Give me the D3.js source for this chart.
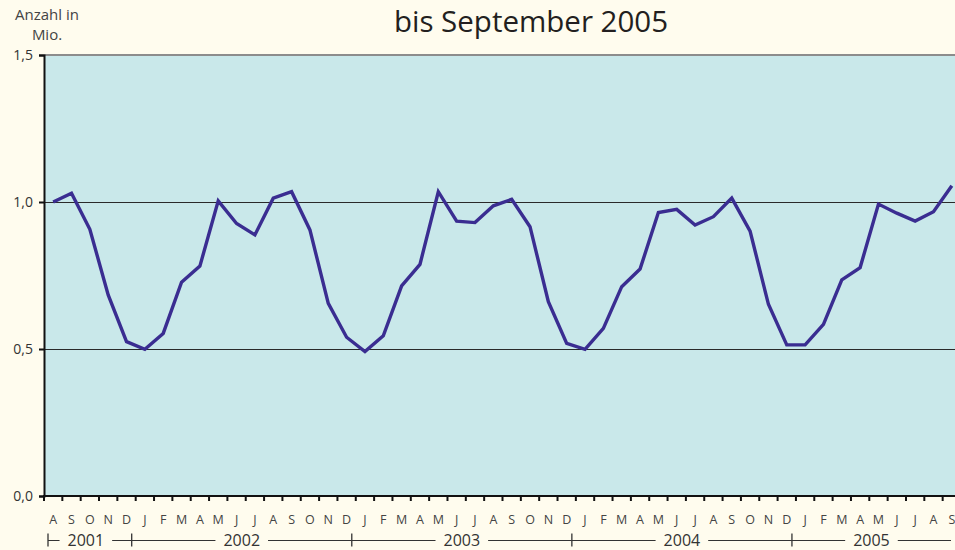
<!DOCTYPE html>
<html lang="de">
  <head>
    <meta charset="UTF-8" />
    <title>Anzahl in Mio. bis September 2005</title>
    <script src="https://d3js.org/d3.v7.min.js"></script>
    <style>
      body {
        margin: 0;
        background: #fffcee;
      }
      svg text {
        font-family: "Open Sans", sans-serif;
      }
    </style>
  </head>
  <body>
    <div id="chart"></div>
    <script>
      // months Aug 2001 .. Sep 2005
      const monthLetters = [
        "A", "S", "O", "N", "D",
        "J", "F", "M", "A", "M", "J", "J", "A", "S", "O", "N", "D",
        "J", "F", "M", "A", "M", "J", "J", "A", "S", "O", "N", "D",
        "J", "F", "M", "A", "M", "J", "J", "A", "S", "O", "N", "D",
        "J", "F", "M", "A", "M", "J", "J", "A", "S",
      ];
      const years = ["2001", "2002", "2003", "2004", "2005"];
      const monthsPerYear = [5, 12, 12, 12, 9];
      const values = [
        1.0, 1.03, 0.907, 0.684, 0.525,
        0.499, 0.553, 0.727, 0.782, 1.004, 0.927, 0.888, 1.013, 1.035, 0.905, 0.655, 0.54,
        0.491, 0.545, 0.715, 0.788, 1.035, 0.935, 0.93, 0.987, 1.009, 0.916, 0.661, 0.519,
        0.499, 0.57, 0.712, 0.772, 0.964, 0.975, 0.922, 0.95, 1.013, 0.901, 0.652, 0.514,
        0.514, 0.584, 0.735, 0.777, 0.993, 0.962, 0.935, 0.967, 1.055,
      ];
      const yTicks = [0, 0.5, 1.0, 1.5];

      const W = 955, H = 550;
      const plot = { left: 44, top: 55, right: 961, bottom: 496 };

      const svg = d3
        .select("#chart")
        .append("svg")
        .attr("width", W)
        .attr("height", H);

      const data = values.map((v, i) => ({ i, v }));

      const x = d3
        .scaleBand()
        .domain(d3.range(values.length))
        .range([plot.left, plot.right])
        .padding(0);
      const y = d3.scaleLinear().domain([0, 1.5]).range([plot.bottom, plot.top]);

      // plot background
      svg
        .append("rect")
        .attr("x", plot.left)
        .attr("y", plot.top)
        .attr("width", plot.right - plot.left)
        .attr("height", plot.bottom - plot.top)
        .attr("fill", "#c9e8ea");

      // gridlines
      svg
        .selectAll("line.grid")
        .data(yTicks.filter((d) => d > 0))
        .enter()
        .append("line")
        .attr("class", "grid")
        .attr("x1", plot.left)
        .attr("x2", W)
        .attr("y1", (d) => (d === 1.5 ? y(d) : Math.round(y(d)) + 0.5))
        .attr("y2", (d) => (d === 1.5 ? y(d) : Math.round(y(d)) + 0.5))
        .attr("stroke", (d) => (d === 1.5 ? "#8c8c8c" : "#2a2a2a"))
        .attr("stroke-width", (d) => (d === 1.5 ? 2 : 1));

      // line
      const line = d3
        .line()
        .x((d) => x(d.i) + x.bandwidth() / 2)
        .y((d) => y(d.v));

      svg
        .append("path")
        .datum(data)
        .attr("fill", "none")
        .attr("stroke", "#3a2d91")
        .attr("stroke-width", 3.4)
        .attr("stroke-linejoin", "miter")
        .attr("d", line);

      // y axis
      const yAxis = svg
        .append("g")
        .attr("transform", `translate(${plot.left},0)`)
        .call(
          d3
            .axisLeft(y)
            .tickValues(yTicks)
            .tickSize(5)
            .tickPadding(6)
            .tickFormat((d) => d3.format(".1f")(d).replace(".", ","))
        );
      yAxis.select(".domain").attr("stroke", "#111").attr("stroke-width", 2);
      yAxis.selectAll(".tick line").attr("stroke", "#111").attr("stroke-width", 2);
      yAxis
        .selectAll(".tick text")
        .attr("fill", "#333")
        .style("font-size", "14px");

      // x axis: ticks on band boundaries
      const xAxis = svg
        .append("g")
        .attr("transform", `translate(0,${plot.bottom})`);
      xAxis
        .append("line")
        .attr("x1", plot.left - 1)
        .attr("x2", W)
        .attr("stroke", "#111")
        .attr("stroke-width", 2);
      xAxis
        .selectAll("line.tick")
        .data(d3.range(values.length))
        .enter()
        .append("line")
        .attr("class", "tick")
        .attr("x1", (d) => x(d))
        .attr("x2", (d) => x(d))
        .attr("y1", 0)
        .attr("y2", 5)
        .attr("stroke", "#111")
        .attr("stroke-width", 2);
      xAxis
        .selectAll("text.month")
        .data(monthLetters)
        .enter()
        .append("text")
        .attr("class", "month")
        .attr("x", (d, i) => x(i) + x.bandwidth() / 2)
        .attr("y", 28)
        .attr("text-anchor", "middle")
        .attr("fill", "#444")
        .style("font-size", "12.5px")
        .text((d) => d);

      // year row
      let start = 0;
      const yearSpans = years.map((yr, k) => {
        const s = { yr, a: x(start), b: Math.min(x(start + monthsPerYear[k] - 1) + x.bandwidth(), W) };
        start += monthsPerYear[k];
        return s;
      });
      const yearRow = svg.append("g").attr("transform", "translate(-4,0)");
      const yearY = 540.5;
      yearSpans.forEach((s, k) => {
        const cx = (s.a + s.b) / 2;
        const t = yearRow
          .append("text")
          .attr("x", cx)
          .attr("y", 546)
          .attr("text-anchor", "middle")
          .attr("fill", "#333")
          .style("font-size", "16px")
          .text(s.yr);
        const half = t.node().getComputedTextLength() / 2 + 8;
        const a = k === 0 ? s.a + 8 : s.a;
        yearRow
          .append("line")
          .attr("x1", a)
          .attr("x2", cx - half)
          .attr("y1", yearY)
          .attr("y2", yearY)
          .attr("stroke", "#333")
          .attr("stroke-width", 1);
        yearRow
          .append("line")
          .attr("x1", cx + half)
          .attr("x2", s.b)
          .attr("y1", yearY)
          .attr("y2", yearY)
          .attr("stroke", "#333")
          .attr("stroke-width", 1);
      });
      // separators
      const seps = [yearSpans[0].a + 8].concat(yearSpans.slice(1).map((s) => s.a));
      yearRow
        .selectAll("line.sep")
        .data(seps)
        .enter()
        .append("line")
        .attr("class", "sep")
        .attr("x1", (d) => d)
        .attr("x2", (d) => d)
        .attr("y1", yearY - 7)
        .attr("y2", yearY + 6)
        .attr("stroke", "#333")
        .attr("stroke-width", 1.3);

      // axis unit label
      svg
        .append("text")
        .attr("x", 47)
        .attr("y", 20)
        .attr("text-anchor", "middle")
        .attr("fill", "#444")
        .style("font-size", "15px")
        .text("Anzahl in");
      svg
        .append("text")
        .attr("x", 47)
        .attr("y", 40)
        .attr("text-anchor", "middle")
        .attr("fill", "#444")
        .style("font-size", "15px")
        .text("Mio.");

      // title (second line visible)
      svg
        .append("text")
        .attr("x", 531)
        .attr("y", 32)
        .attr("text-anchor", "middle")
        .attr("fill", "#231f20")
        .style("font-size", "29.5px")
        .style("font-weight", "500")
        .text("bis September 2005");
    </script>
  </body>
</html>
